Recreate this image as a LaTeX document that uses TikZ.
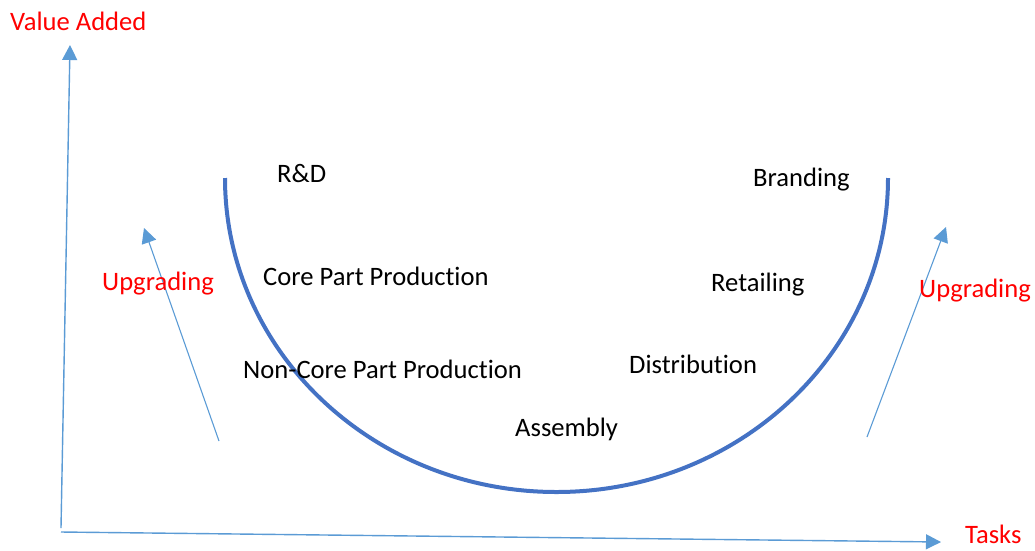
\documentclass[tikz,border=0pt]{standalone}
\usepackage{fontspec}
\setmainfont{Carlito}[RawFeature={-liga}]
\usetikzlibrary{arrows.meta}
\definecolor{curveblue}{HTML}{4472C4}
\definecolor{axisblue}{HTML}{5B9BD5}
\definecolor{redtxt}{HTML}{FF0000}
\begin{document}
\begin{tikzpicture}[x=1pt,y=-1pt,
  lbl/.style={anchor=base west,inner sep=0pt,font=\fontsize{26.6}{30}\selectfont,text=black},
  redlbl/.style={lbl,text=redtxt},
  thinarrow/.style={draw=axisblue,line width=1.4pt,-{Triangle[length=15pt,width=15pt]}},
  ucurve/.style={draw=curveblue,line width=4pt}]
\useasboundingbox (0,0) rectangle (1035,550);
% axes
\coordinate (yorig) at (61,528);
\coordinate (ytip) at (70,45);
\coordinate (xorig) at (61,532);
\coordinate (xtip) at (941,542);
\draw[thinarrow] (yorig) -- (ytip);
\draw[thinarrow] (xorig) -- (xtip);
% upgrading arrows
\coordinate (lus) at (219,441);
\coordinate (lue) at (144,228);
\coordinate (rus) at (867,437);
\coordinate (rue) at (946,227);
\draw[thinarrow,line width=1.1pt] (lus) -- (lue);
\draw[thinarrow,line width=1.1pt] (rus) -- (rue);
% smile curve
\coordinate (cstart) at (225,178);
\draw[ucurve] (cstart) arc[start angle=180,end angle=0,x radius=331.5,y radius=314];
% labels
\node[redlbl] (va) at (10,30) {Value Added};
\node[redlbl] (tasks) at (965,543) {Tasks};
\node[redlbl] (upl) at (102,290) {Upgrading};
\node[redlbl] (upr) at (919,297) {Upgrading};
\node[lbl] (rd) at (277,182) {R\&D};
\node[lbl] (core) at (263,285) {Core Part Production};
\node[lbl] (noncore) at (243,378) {Non-Core Part Production};
\node[lbl] (asm) at (515,436) {Assembly};
\node[lbl] (dist) at (629,373) {Distribution};
\node[lbl] (ret) at (711,291) {Retailing};
\node[lbl] (brand) at (753,186) {Branding};
\end{tikzpicture}
\end{document}
